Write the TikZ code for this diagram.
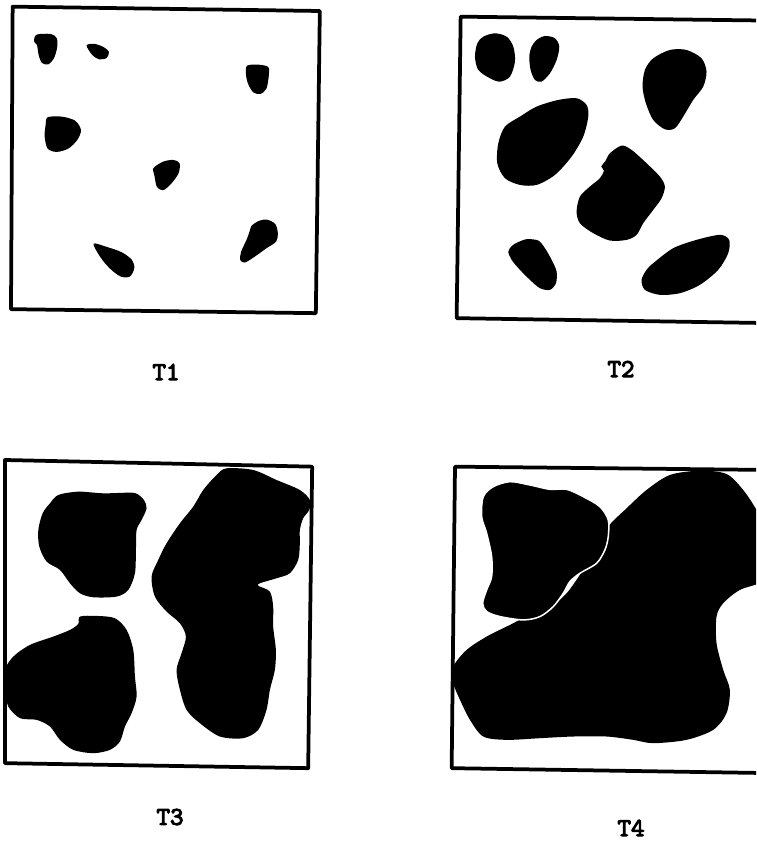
\documentclass[tikz,border=0pt]{standalone}
\usepackage{fontspec}
\newfontfamily\tagfont{lmmono10-regular}[Extension=.otf,FakeBold=4]
\tikzset{
  panelframe/.style={draw=black,line width=3.2pt,line join=round},
  blob/.style={fill=black},
  cutblob/.style={fill=black,draw=white,line width=1.3pt},
  tlabel/.style={font=\tagfont\fontsize{22}{26}\selectfont,inner sep=0pt},
  zoomed/.style={x=0.01cm,y=-0.01cm}
}

\begin{document}
\begin{tikzpicture}[x=0.03cm,y=-0.03cm]
  \clip (0,0) rectangle (756,842);
  \fill[white] (0,0) rectangle (756,842);

  % T1: small scattered grains
  \begin{scope}[zoomed]
    \draw[panelframe] (38,20) -- (960,33) -- (948,940) -- (33,928) -- cycle;
    \fill[blob] plot[smooth cycle] coordinates {(110,104) (152,102) (170,114) (172,140) (162,175) (145,193) (126,189) (116,165) (111,135) (102,124)};
    \fill[blob] plot[smooth cycle] coordinates {(260,136) (285,132) (312,142) (327,156) (320,174) (298,178) (276,164)};
    \fill[blob] plot[smooth cycle] coordinates {(742,197) (775,194) (805,201) (807,225) (800,265) (782,282) (760,277) (744,250) (738,220)};
    \fill[blob] plot[smooth cycle] coordinates {(143,352) (185,350) (225,362) (243,390) (232,420) (205,446) (170,456) (143,446) (134,410) (137,375)};
    \fill[blob] plot[smooth cycle] coordinates {(465,500) (490,485) (520,480) (539,490) (536,520) (515,550) (490,571) (471,561) (464,530) (459,507)};
    \fill[blob] plot[smooth cycle] coordinates {(281,731) (320,741) (365,757) (396,780) (403,805) (390,830) (365,831) (340,815) (315,790) (295,762)};
    \fill[blob] plot[smooth cycle] coordinates {(755,678) (775,664) (800,659) (826,672) (834,700) (829,725) (800,745) (765,770) (735,788) (721,780) (724,755) (740,720) (750,692)};
  \end{scope}

  % T2: grains growing
  \begin{scope}[shift={(440,0)},zoomed]
    \draw[panelframe] (62,50) -- (1000,62) -- (1000,970) -- (50,955) -- cycle;
    \fill[blob] plot[smooth cycle] coordinates {(130,110) (165,100) (200,110) (220,140) (225,185) (210,230) (180,245) (150,235) (115,210) (105,170) (112,130)};
    \fill[blob] plot[smooth cycle] coordinates {(290,120) (315,108) (345,115) (358,140) (350,180) (330,220) (305,245) (285,240) (272,210) (268,170) (275,140)};
    \fill[blob] plot[smooth cycle] coordinates {(240,350) (290,320) (355,300) (410,295) (440,315) (445,350) (430,410) (395,470) (345,525) (290,555) (240,555) (195,535) (172,490) (175,430) (195,380)};
    \fill[blob] plot[smooth cycle] coordinates {(640,175) (690,150) (740,150) (785,175) (800,215) (790,260) (760,300) (730,350) (705,385) (675,388) (640,360) (618,310) (608,260) (615,210)};
    \fill[blob] plot[smooth cycle] coordinates {(510,460) (545,437) (575,450) (620,490) (660,530) (675,560) (665,595) (640,630) (610,670) (590,705) (560,720) (510,722) (460,700) (420,670) (410,635) (420,590) (450,560) (480,535) (492,512) (484,500) (496,484)};
    \fill[blob] plot[smooth cycle] coordinates {(232,728) (260,718) (295,722) (315,745) (335,780) (350,815) (348,850) (330,870) (300,865) (270,840) (240,810) (215,780) (205,755) (216,738)};
    \fill[blob] plot[smooth cycle] coordinates {(640,790) (700,745) (770,720) (840,705) (868,720) (865,760) (835,810) (780,855) (720,880) (660,885) (615,870) (605,840) (620,810)};
  \end{scope}

  % T3: grains merging
  \begin{scope}[shift={(0,450)},zoomed]
    \draw[panelframe] (15,30) -- (937,50) -- (925,955) -- (15,940) -- cycle;
    \fill[blob] plot[smooth cycle] coordinates {(175,135) (235,125) (310,130) (390,128) (412,132) (432,150) (440,175) (425,210) (410,240) (408,300) (405,370) (385,420) (350,440) (280,442) (240,430) (210,400) (180,360) (140,335) (118,290) (115,240) (128,190) (150,160)};
    \fill[blob] plot[smooth cycle] coordinates {(240,500) (290,498) (345,505) (380,540) (400,600) (405,680) (410,740) (395,790) (375,830) (360,875) (330,900) (280,910) (220,900) (180,870) (150,830) (110,810) (60,805) (25,770) (15,720) (15,660) (40,620) (90,585) (160,560) (210,540) (235,522)};
    \fill[blob] plot[smooth cycle] coordinates {(680,55) (760,60) (830,90) (900,120) (930,150) (928,180) (910,205) (900,240) (900,280) (895,330) (870,370) (830,385) (780,400) (776,408) (810,425) (820,470) (820,530) (828,600) (825,660) (810,720) (800,780) (775,840) (730,865) (660,860) (600,820) (560,780) (540,720) (530,660) (545,610) (558,560) (540,520) (500,485) (465,440) (455,380) (475,330) (500,280) (540,220) (580,170) (610,120) (650,75)};
  \end{scope}

  % T4: nearly full coverage
  \begin{scope}[shift={(440,450)},zoomed]
    \draw[panelframe] (45,50) -- (1000,60) -- (1000,970) -- (35,955) -- cycle;
    \fill[blob] plot[smooth cycle] coordinates {(40,650) (80,600) (140,560) (210,525) (250,505) (320,480) (380,430) (430,360) (480,290) (505,230) (560,175) (620,120) (690,75) (780,62) (860,72) (910,120) (950,180) (990,260) (990,380) (900,420) (850,460) (830,500) (830,580) (850,660) (870,720) (860,790) (820,840) (740,870) (640,880) (580,870) (500,860) (400,860) (300,865) (200,870) (130,860) (90,810) (60,750) (40,700)};
    \filldraw[cutblob] plot[smooth cycle] coordinates {(160,110) (210,95) (270,105) (330,118) (380,118) (430,140) (480,170) (505,210) (505,260) (495,300) (470,340) (420,370) (390,395) (370,430) (340,470) (300,500) (250,510) (180,500) (140,485) (128,460) (140,420) (155,380) (155,320) (140,250) (125,200) (130,140)};
  \end{scope}

  % captions
  \node[tlabel] (t1) at (166,372) {T1};
  \node[tlabel] (t2) at (621,369) {T2};
  \node[tlabel] (t3) at (170,817) {T3};
  \node[tlabel] (t4) at (631,828) {T4};
\end{tikzpicture}
\end{document}
